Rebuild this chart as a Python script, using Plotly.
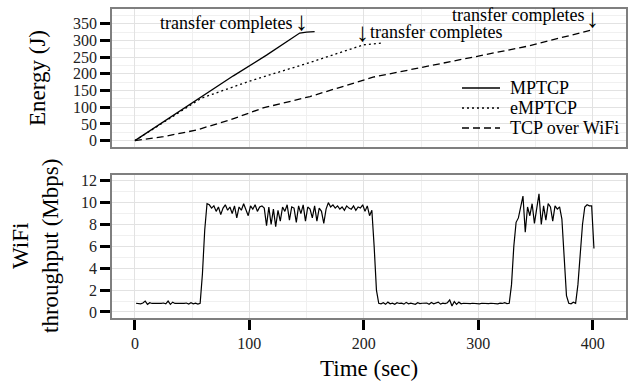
import plotly.graph_objects as go

# ---- Energy (top panel) ----
mptcp_t = [0, 30, 60, 86, 115, 144, 150, 157]
mptcp_e = [0, 68, 136, 194, 256, 322, 325, 326]

emptcp_t = [0, 30, 58, 100, 153, 200, 216]
emptcp_e = [0, 66, 127, 178, 234, 287, 292]

tcp_t = [0, 25, 54, 83, 112, 153, 208, 255, 284, 313, 342, 371, 401]
tcp_e = [0, 12, 32, 62, 98, 132, 190, 222, 242, 262, 282, 307, 333]

# ---- WiFi throughput (bottom panel), sampled every 2 s starting at t = 1 ----
wifi_mbps = [
    # t = 1 .. 57
    0.8, 0.78, 0.75, 0.82, 1.0, 0.7, 0.85, 0.78, 0.8, 0.76,
    0.8, 0.78, 0.82, 0.75, 1.0, 0.7, 0.9, 0.78, 0.8, 0.76,
    0.8, 0.78, 0.82, 0.72, 0.85, 0.75, 0.8, 0.72, 0.8,
    # t = 59 .. 63
    3.5, 7.5, 9.9,
    # t = 65 .. 205
    9.8, 9.5, 9.7, 9.2, 9.6, 8.9, 9.5, 9.8, 9.3, 9.6,
    9.0, 9.7, 8.6, 9.6, 9.3, 9.9, 9.4, 8.8, 9.7, 9.4,
    9.8, 9.2, 9.6, 9.7, 9.5, 7.9, 9.6, 8.0, 9.4, 7.8,
    9.3, 8.3, 9.6, 9.2, 9.8, 8.4, 9.6, 9.5, 8.2, 9.7,
    9.0, 9.8, 8.3, 9.6, 9.4, 8.6, 9.7, 8.3, 9.5, 9.2,
    8.1, 9.4, 10.0, 9.6, 9.8, 9.5, 9.7, 9.4, 9.6, 9.3,
    9.7, 9.5, 9.4, 9.7, 9.3, 9.6, 9.5, 9.8, 9.2, 9.7,
    8.8,
    # t = 207 .. 211
    9.3, 6.0, 2.0,
    # t = 213 .. 325
    0.8, 0.75, 0.85, 0.7, 0.9, 0.75, 0.8, 0.7, 0.85, 0.78,
    0.8, 0.72, 0.88, 0.75, 0.8, 0.78, 0.7, 0.85, 0.76, 0.8,
    0.78, 0.82, 0.7, 0.86, 0.75, 0.8, 0.9, 0.72, 0.8, 0.76,
    0.85, 1.1, 0.55, 0.95, 0.7, 0.9, 0.75, 0.8, 0.78, 0.8,
    0.76, 0.8, 0.78, 0.82, 0.75, 0.8, 0.78, 0.8, 0.76, 0.8,
    0.78, 0.82, 0.75, 0.8, 0.78, 0.85, 0.76,
    # t = 327 .. 401
    0.8, 2.5, 6.0, 8.2, 8.6, 9.6, 10.6, 7.3, 9.6, 8.8,
    9.9, 8.1, 9.6, 10.8, 8.0, 9.7, 8.4, 9.9, 9.6, 8.3,
    9.7, 9.4, 9.6, 8.5, 5.0, 1.5, 0.8, 0.75, 0.9, 0.8,
    2.5, 5.5, 8.0, 9.6, 9.8, 9.7, 9.7, 5.8,
]
wifi_t = [1 + 2 * i for i in range(len(wifi_mbps))]

x_ticks = [0, 100, 200, 300, 400]
energy_ticks = [0, 50, 100, 150, 200, 250, 300, 350]
wifi_ticks = [0, 2, 4, 6, 8, 10, 12]

series_names = ["MPTCP", "eMPTCP", "TCP over WiFi"]
series_dash = ["solid", "2px,3px", "7px,4px"]

FONT = "'Liberation Serif', 'Times New Roman', Times, serif"
W, H = 636, 381
L, R, T, B = 112, 10, 9, 63
plot_h = H - T - B
plot_w = W - L - R

def py(px):  # pixel y -> paper y
    return (H - B - px) / plot_h

def px_(x):  # pixel x -> paper x
    return (x - L) / plot_w

fig = go.Figure()
for name, dash, tx, ey in zip(series_names, series_dash,
                               [mptcp_t, emptcp_t, tcp_t], [mptcp_e, emptcp_e, tcp_e]):
    fig.add_trace(go.Scatter(x=tx, y=ey, mode="lines", name=name, showlegend=False,
                             line=dict(color="black", width=1.3, dash=dash),
                             xaxis="x", yaxis="y"))
fig.add_trace(go.Scatter(x=wifi_t, y=wifi_mbps, mode="lines", showlegend=False,
                         line=dict(color="black", width=1.2), xaxis="x2", yaxis="y2"))

axis_common = dict(
    showgrid=True, gridcolor="#e2e2e2", gridwidth=1.4,
    showline=True, linecolor="#7f7f7f", linewidth=1.5, mirror=True,
    zeroline=False, automargin=False,
    tickfont=dict(family=FONT, size=16, color="#222"),
)

fig.update_layout(
    width=W, height=H,
    margin=dict(l=L, r=R, t=T, b=B, autoexpand=False),
    paper_bgcolor="white", plot_bgcolor="white",
    font=dict(family=FONT, color="black"),
    xaxis=dict(axis_common, range=[-20, 429], anchor="y", domain=[0, 1],
               tickvals=x_ticks, showticklabels=False, ticks="",
               minor=dict(showgrid=True, gridcolor="#f0f0f0", gridwidth=1, dtick=50, tick0=0)),
    yaxis=dict(axis_common, range=[-19, 394], domain=[py(147), 1], anchor="x",
               tickvals=energy_ticks, ticks="outside", ticklen=10, tickwidth=3, tickcolor="black",
               minor=dict(showgrid=True, gridcolor="#f0f0f0", gridwidth=1, dtick=25, tick0=0)),
    xaxis2=dict(axis_common, range=[-20, 429], anchor="y2", domain=[0, 1],
                tickvals=x_ticks, ticks="outside", ticklen=10, tickwidth=3, tickcolor="black",
                minor=dict(showgrid=True, gridcolor="#f0f0f0", gridwidth=1, dtick=50, tick0=0)),
    yaxis2=dict(axis_common, range=[-0.55, 12.57], domain=[0, py(174.5)], anchor="x2",
                tickvals=wifi_ticks, ticks="outside", ticklen=10, tickwidth=3, tickcolor="black",
                minor=dict(showgrid=True, gridcolor="#f0f0f0", gridwidth=1, dtick=1, tick0=0)),
    showlegend=False,
)

# legend drawn inside the top panel
leg_font = dict(family=FONT, size=18, color="black")
for i, (name, dash) in enumerate(zip(series_names, series_dash)):
    yy = py(88 + 20 * i)
    fig.add_shape(type="line", xref="paper", yref="paper",
                  x0=px_(462), x1=px_(500), y0=yy, y1=yy,
                  line=dict(color="black", width=1.3, dash=dash))
    fig.add_annotation(x=px_(508), y=yy, xref="paper", yref="paper", text=name,
                       showarrow=False, xanchor="left", yanchor="middle", font=leg_font)

ann_font = dict(family=FONT, size=18, color="black")
arrow_font = dict(family=FONT, size=26, color="black")
# (text x edge, text y, text anchor, arrow x, arrow y)
notes = [
    (139.0, 353, "right", 145.5, 358),
    (204.0, 326, "left", 199.0, 323),
    (394.0, 377, "right", 400.0, 365),
]
for tx, ty, anc, ax, ay in notes:
    fig.add_annotation(x=tx, y=ty, xref="x", yref="y", text="transfer completes",
                       showarrow=False, xanchor=anc, yanchor="middle", font=ann_font)
    fig.add_annotation(x=ax, y=ay, xref="x", yref="y", text="↓",
                       showarrow=False, xanchor="center", yanchor="middle", font=arrow_font)

title_font = dict(family=FONT, size=23, color="black")
fig.add_annotation(x=px_(37), y=py(78), xref="paper", yref="paper", text="Energy (J)",
                   textangle=-90, showarrow=False, xanchor="center", yanchor="middle", font=title_font)
fig.add_annotation(x=px_(35), y=py(246), xref="paper", yref="paper",
                   text="WiFi<br>throughput (Mbps)",
                   textangle=-90, showarrow=False, xanchor="center", yanchor="middle", font=title_font)
fig.add_annotation(x=px_(369), y=py(368), xref="paper", yref="paper", text="Time (sec)",
                   showarrow=False, xanchor="center", yanchor="middle", font=title_font)

fig.write_html("out.html", config={"displayModeBar": False},
               post_script="document.body.style.margin='0';")
